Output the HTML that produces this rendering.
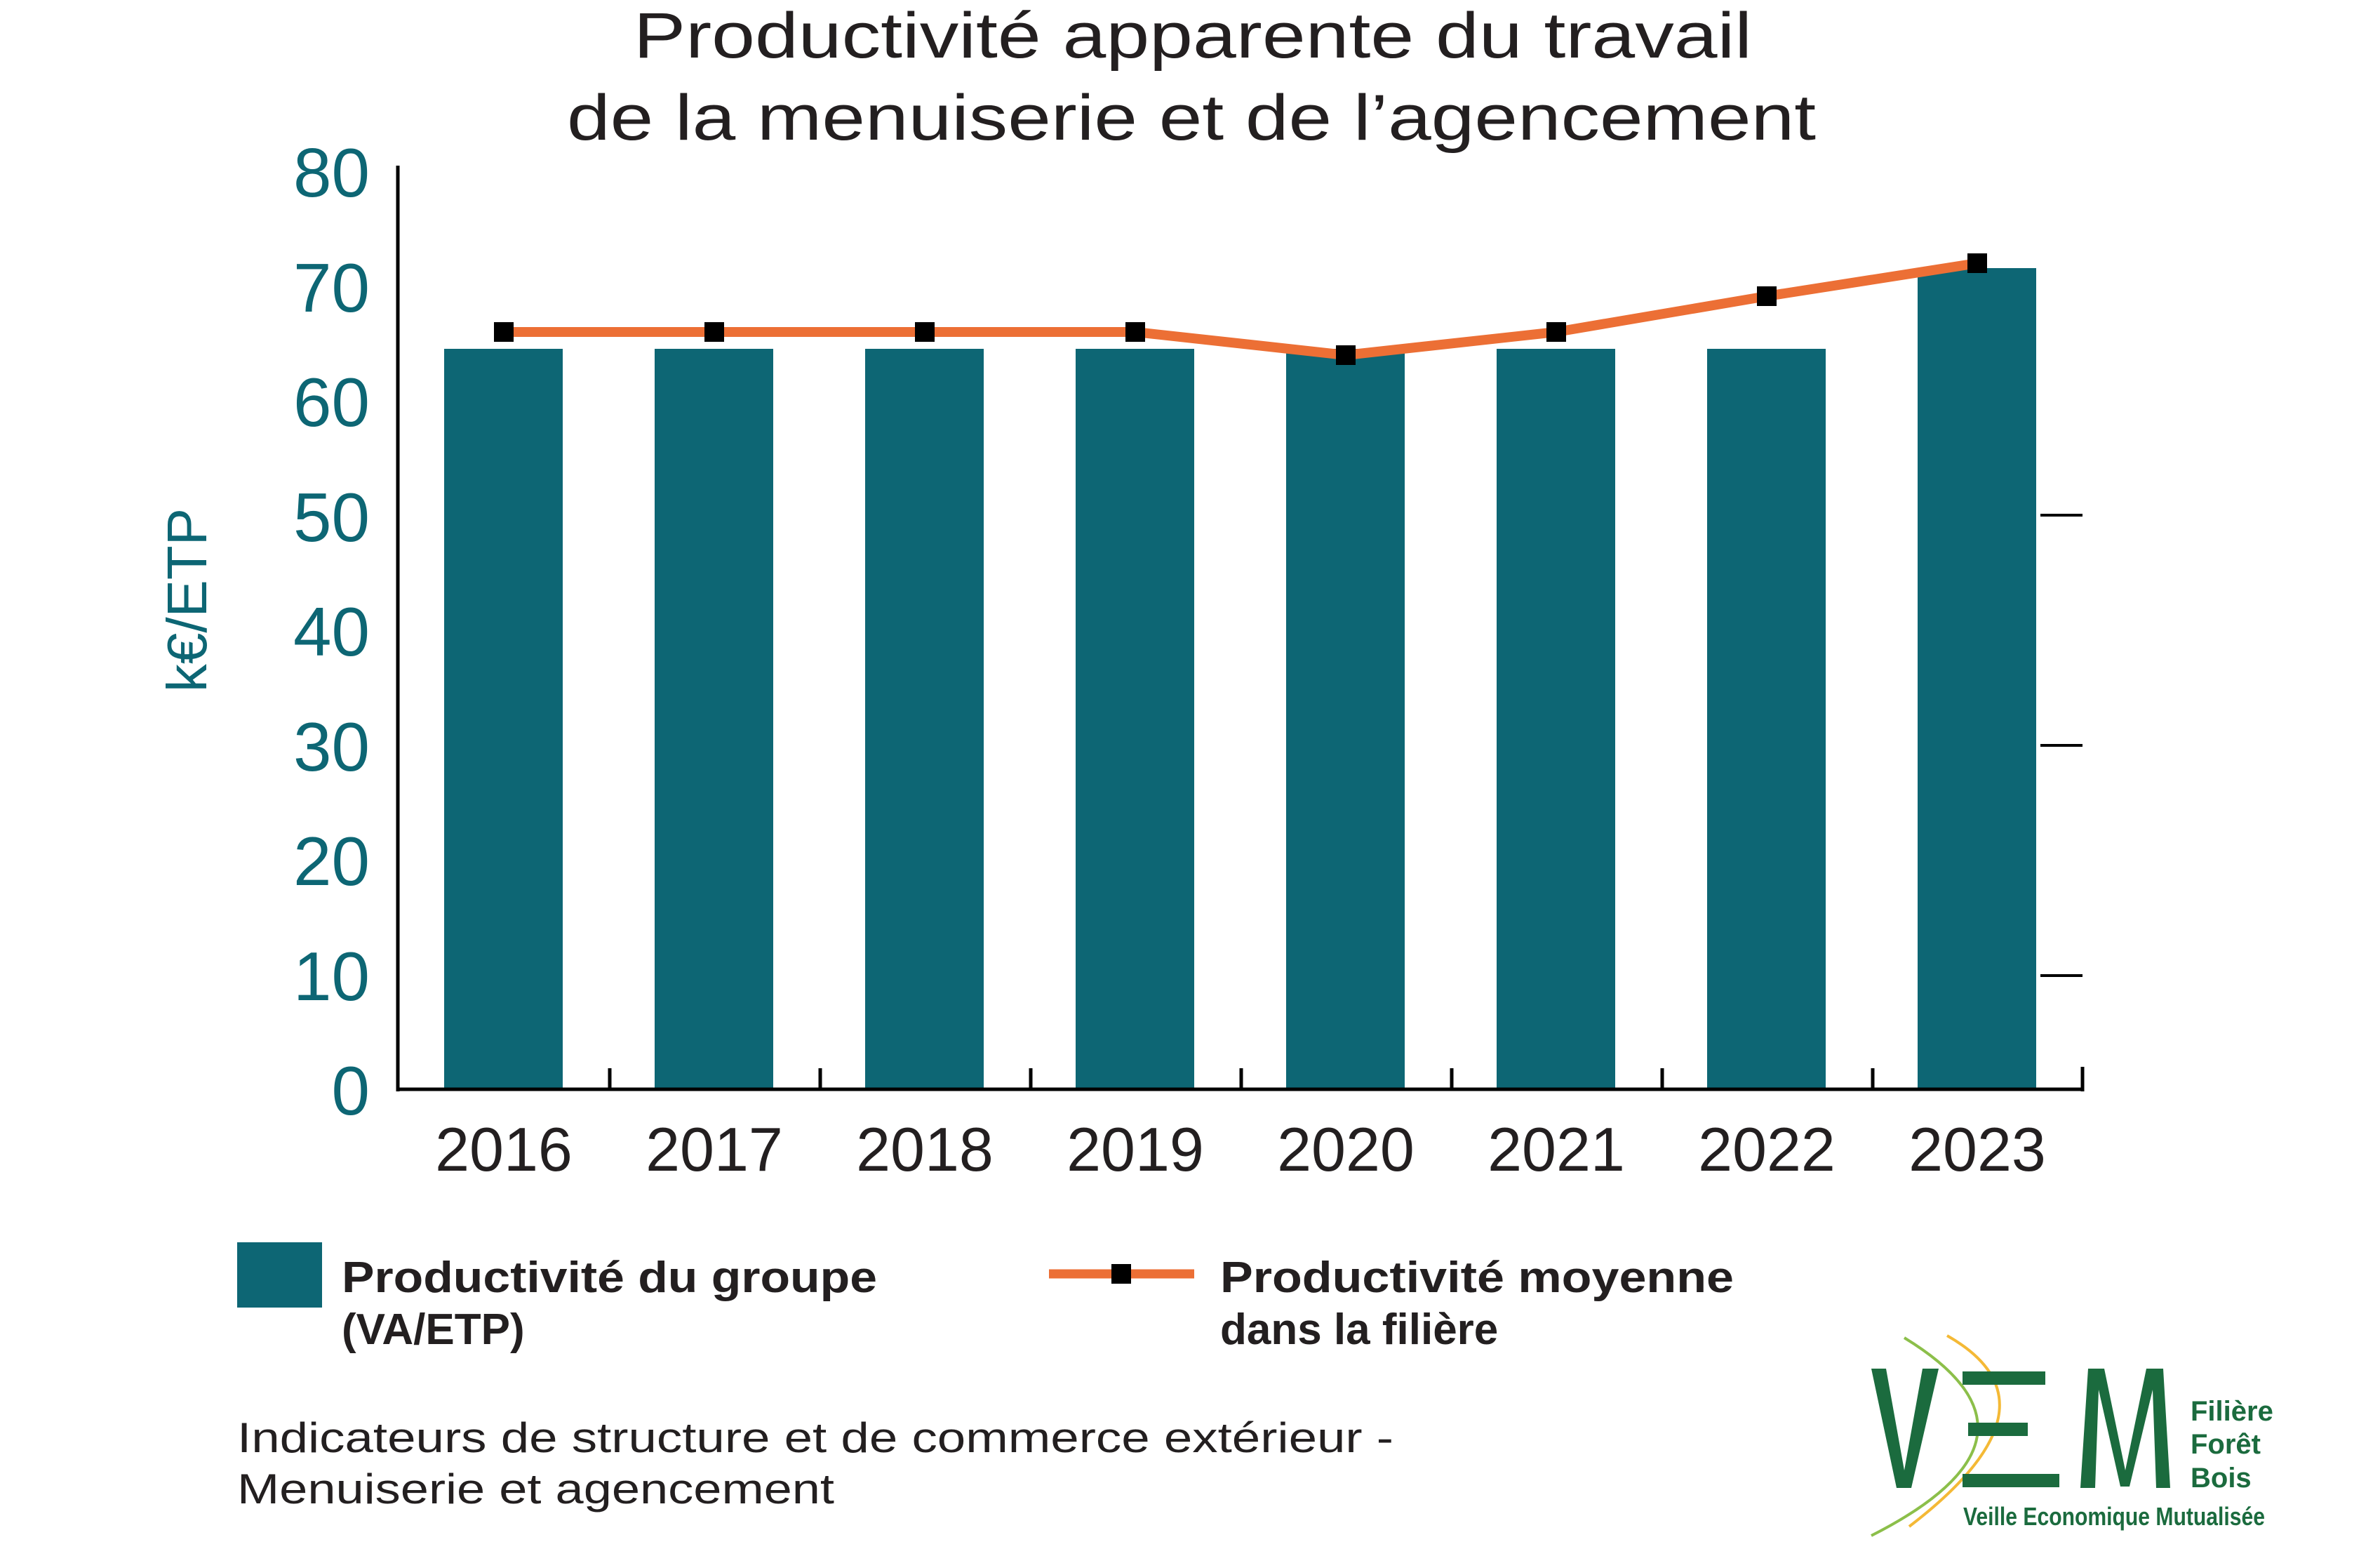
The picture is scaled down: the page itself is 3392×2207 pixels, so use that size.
<!DOCTYPE html>
<html><head><meta charset="utf-8"><style>html,body{margin:0;padding:0;background:#fff}svg{display:block}</style></head>
<body>
<svg width="3392" height="2207" viewBox="0 0 3392 2207" xmlns="http://www.w3.org/2000/svg" font-family="'Liberation Sans', sans-serif">
<rect width="3392" height="2207" fill="#fff"/>
<!-- title -->
<text x="1700" y="82" font-size="92" fill="#231f20" text-anchor="middle" textLength="1594" lengthAdjust="spacingAndGlyphs">Productivité apparente du travail</text>
<text x="1698" y="199" font-size="92" fill="#231f20" text-anchor="middle" textLength="1780" lengthAdjust="spacingAndGlyphs">de la menuiserie et de l’agencement</text>
<!-- y labels -->
<g font-size="98" fill="#0d6674" text-anchor="end">
<text x="527" y="280">80</text><text x="527" y="444">70</text><text x="527" y="607">60</text><text x="527" y="771">50</text><text x="527" y="934">40</text><text x="527" y="1098">30</text><text x="527" y="1261">20</text><text x="527" y="1425">10</text><text x="527" y="1588">0</text>
</g>
<text transform="translate(294,855) rotate(-90)" font-size="80" fill="#0d6674" text-anchor="middle">k€/ETP</text>
<!-- bars -->
<g fill="#0d6674">
<rect x="633" y="497" width="169" height="1055"/>
<rect x="933" y="497" width="169" height="1055"/>
<rect x="1233" y="497" width="169" height="1055"/>
<rect x="1533" y="497" width="169" height="1055"/>
<rect x="1833" y="497" width="169" height="1055"/>
<rect x="2133" y="497" width="169" height="1055"/>
<rect x="2433" y="497" width="169" height="1055"/>
<rect x="2733" y="382" width="169" height="1170"/>
</g>
<!-- axes -->
<g stroke="#000" stroke-width="5" fill="none">
<line x1="567" y1="236" x2="567" y2="1555"/>
<line x1="565" y1="1552" x2="2970" y2="1552"/>
<line x1="2968" y1="1520" x2="2968" y2="1555"/>
<line x1="869" y1="1522" x2="869" y2="1552"/>
<line x1="1169" y1="1522" x2="1169" y2="1552"/>
<line x1="1469" y1="1522" x2="1469" y2="1552"/>
<line x1="1769" y1="1522" x2="1769" y2="1552"/>
<line x1="2069" y1="1522" x2="2069" y2="1552"/>
<line x1="2369" y1="1522" x2="2369" y2="1552"/>
<line x1="2669" y1="1522" x2="2669" y2="1552"/>
<line x1="2908" y1="734" x2="2968" y2="734" stroke-width="4"/>
<line x1="2908" y1="1062" x2="2968" y2="1062" stroke-width="4"/>
<line x1="2908" y1="1390" x2="2968" y2="1390" stroke-width="4"/>
</g>
<!-- years -->
<g font-size="88" fill="#231f20" text-anchor="middle">
<text x="718" y="1668">2016</text><text x="1018" y="1668">2017</text><text x="1318" y="1668">2018</text><text x="1618" y="1668">2019</text><text x="1918" y="1668">2020</text><text x="2218" y="1668">2021</text><text x="2518" y="1668">2022</text><text x="2818" y="1668">2023</text>
</g>
<!-- line -->
<polyline points="718,473 1018,473 1318,473 1618,473 1918,506 2218,473 2518,422 2818,375" fill="none" stroke="#ec6f35" stroke-width="14" stroke-linejoin="round"/>
<g fill="#000">
<rect x="704" y="459" width="28" height="28"/><rect x="1004" y="459" width="28" height="28"/><rect x="1304" y="459" width="28" height="28"/><rect x="1604" y="459" width="28" height="28"/><rect x="1904" y="492" width="28" height="28"/><rect x="2204" y="459" width="28" height="28"/><rect x="2504" y="408" width="28" height="28"/><rect x="2804" y="361" width="28" height="28"/>
</g>
<!-- legend -->
<rect x="338" y="1770" width="121" height="93" fill="#0d6674"/>
<g font-size="62" font-weight="bold" fill="#231f20">
<text x="487" y="1841" textLength="763" lengthAdjust="spacingAndGlyphs">Productivité du groupe</text>
<text x="487" y="1915">(VA/ETP)</text>
<text x="1739" y="1841" textLength="732" lengthAdjust="spacingAndGlyphs">Productivité moyenne</text>
<text x="1739" y="1915">dans la filière</text>
</g>
<line x1="1495" y1="1815" x2="1702" y2="1815" stroke="#ec6f35" stroke-width="13"/>
<rect x="1584" y="1801" width="28" height="28" fill="#000"/>
<!-- footer -->
<g font-size="60" fill="#231f20">
<text x="338" y="2069" textLength="1648" lengthAdjust="spacingAndGlyphs">Indicateurs de structure et de commerce extérieur -</text>
<text x="338" y="2142" textLength="851" lengthAdjust="spacingAndGlyphs">Menuiserie et agencement</text>
</g>
<!-- logo -->
<path d="M2714,1906 Q2945,2047 2667,2188" fill="none" stroke="#8cbf4a" stroke-width="4"/>
<path d="M2775,1903 Q2948,2001 2721,2175" fill="none" stroke="#f4b936" stroke-width="4"/>
<g fill="#1b6b3e">
<polygon points="2667,1950 2688,1950 2714,2095 2740,1950 2763,1950 2724,2120 2703,2120"/>
<rect x="2797" y="1954" width="118" height="19"/>
<rect x="2805" y="2027" width="85" height="19"/>
<rect x="2797" y="2100" width="138" height="19"/>
<polygon points="2965,2120 2976,1950 2999,1950 3029,2095 3059,1950 3083,1950 3093,2120 3073,2120 3068,1980 3035,2118 3022,2118 2991,1980 2986,2120"/>
</g>
<g font-family="'Liberation Sans Narrow','Liberation Sans',sans-serif" fill="#1b6b3e" font-weight="bold">
<text x="3122" y="2024" font-size="40">Filière</text>
<text x="3122" y="2071" font-size="40">Forêt</text>
<text x="3122" y="2119" font-size="40">Bois</text>
<text x="2798" y="2173" font-size="36" textLength="430" lengthAdjust="spacingAndGlyphs">Veille Economique Mutualisée</text>
</g>
</svg>
</body></html>
